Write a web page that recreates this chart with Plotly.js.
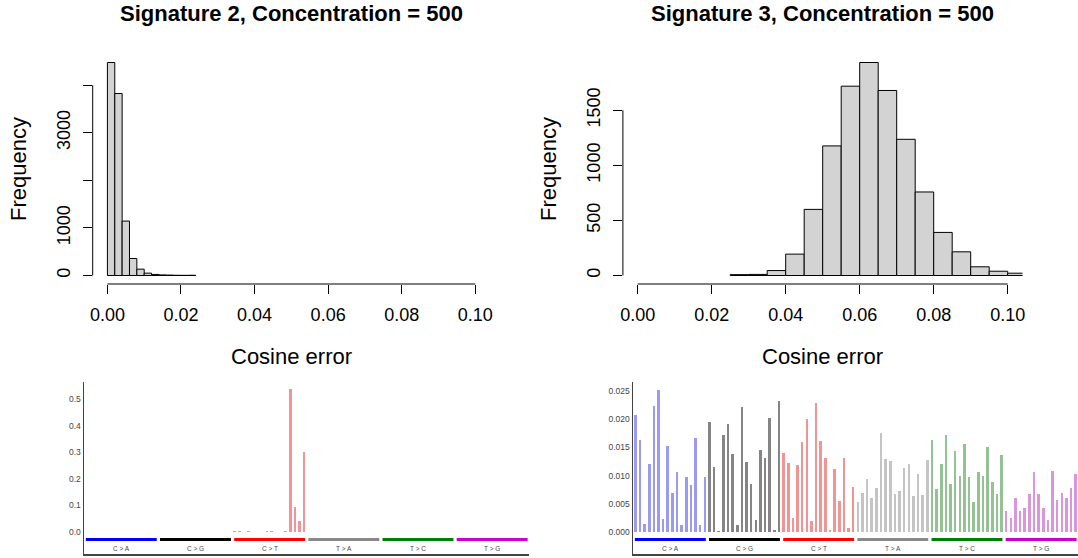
<!DOCTYPE html>
<html>
<head>
<meta charset="utf-8">
<script src="https://cdn.plot.ly/plotly-3.0.1.min.js"></script>
<style>
  html, body { margin: 0; padding: 0; background: #fff; }
  #chart { width: 1078px; height: 558px; }
</style>
</head>
<body>
<div id="chart"></div>
<script>
// ---------- Data ----------
// Histogram of cosine error, Signature 2 (bin left edges, width 0.002)
const sig2BinEdges = [0.000, 0.002, 0.004, 0.006, 0.008, 0.010, 0.012, 0.014, 0.016, 0.018, 0.020, 0.022];
const sig2BinWidth = 0.002;
const sig2Counts = [4477, 3825, 1144, 358, 133, 49, 22, 12, 8, 4, 3, 5];

// Histogram of cosine error, Signature 3 (bin left edges, width 0.005)
const sig3BinEdges = [0.025, 0.030, 0.035, 0.040, 0.045, 0.050, 0.055, 0.060, 0.065, 0.070, 0.075, 0.080, 0.085, 0.090, 0.095, 0.100];
const sig3BinWidth = 0.005;
const sig3Counts = [8, 10, 45, 194, 600, 1176, 1718, 1933, 1679, 1236, 758, 391, 215, 79, 39, 21];

// Mutation classes (16 trinucleotide contexts each)
const mutationClasses = ['C > A', 'C > G', 'C > T', 'T > A', 'T > C', 'T > G'];
const classBarColors = ['#9a9af2', '#858585', '#f29494', '#c4c4c4', '#93c393', '#dc94dc'];
const classLineColors = ['#0000ff', '#000000', '#ff0000', '#888888', '#008000', '#cc00cc'];

// Signature 2 profile (96 values, grouped by class)
const sig2Profile = [
  0.0002, 0.0001, 0.0001, 0.0002, 0.0001, 0.0001, 0.0001, 0.0001, 0.0001, 0.0001, 0.0001, 0.0001, 0.0002, 0.0001, 0.0001, 0.0001,
  0.0001, 0.0001, 0.0001, 0.0001, 0.0001, 0.0001, 0.0001, 0.0001, 0.0001, 0.0001, 0.0001, 0.0001, 0.0005, 0.0004, 0.0003, 0.0006,
  0.0010, 0.0008, 0.0005, 0.0009, 0.0006, 0.0005, 0.0004, 0.0015, 0.0008, 0.0006, 0.0005, 0.0008, 0.5360, 0.0940, 0.0410, 0.2990,
  0.0001, 0.0001, 0.0001, 0.0001, 0.0001, 0.0001, 0.0001, 0.0001, 0.0001, 0.0001, 0.0001, 0.0001, 0.0001, 0.0001, 0.0001, 0.0001,
  0.0001, 0.0001, 0.0001, 0.0001, 0.0001, 0.0001, 0.0001, 0.0001, 0.0001, 0.0001, 0.0001, 0.0001, 0.0001, 0.0001, 0.0001, 0.0001,
  0.0001, 0.0001, 0.0001, 0.0001, 0.0001, 0.0001, 0.0001, 0.0001, 0.0001, 0.0001, 0.0001, 0.0001, 0.0001, 0.0001, 0.0001, 0.0001
];

// Signature 3 profile (96 values, grouped by class)
const sig3Profile = [
  0.0207, 0.0163, 0.0015, 0.0120, 0.0223, 0.0251, 0.0023, 0.0152, 0.0069, 0.0107, 0.0012, 0.0098, 0.0083, 0.0166, 0.0012, 0.0097,
  0.0195, 0.0115, 0.0001, 0.0172, 0.0191, 0.0139, 0.0012, 0.0221, 0.0125, 0.0085, 0.0022, 0.0145, 0.0131, 0.0202, 0.0003, 0.0233,
  0.0140, 0.0122, 0.0024, 0.0119, 0.0159, 0.0200, 0.0020, 0.0228, 0.0162, 0.0132, 0.0003, 0.0111, 0.0055, 0.0131, 0.0008, 0.0080,
  0.0053, 0.0070, 0.0094, 0.0060, 0.0078, 0.0176, 0.0130, 0.0126, 0.0068, 0.0073, 0.0114, 0.0121, 0.0063, 0.0103, 0.0065, 0.0128,
  0.0163, 0.0076, 0.0121, 0.0172, 0.0086, 0.0143, 0.0099, 0.0156, 0.0098, 0.0054, 0.0107, 0.0100, 0.0150, 0.0088, 0.0067, 0.0137,
  0.0037, 0.0024, 0.0061, 0.0037, 0.0042, 0.0068, 0.0106, 0.0068, 0.0042, 0.0021, 0.0108, 0.0057, 0.0070, 0.0061, 0.0078, 0.0103
];

const sig2TickVals = [0, 0.1, 0.2, 0.3, 0.4, 0.5];
const sig3TickVals = [0, 0.005, 0.010, 0.015, 0.020, 0.025];

const histTitles = ['Signature 2, Concentration = 500', 'Signature 3, Concentration = 500'];

// ---------- Build ----------
const W = 1078, H = 558;
const px = v => v / W;
const py = v => 1 - v / H;

const FONT = 'Liberation Sans, Arial, sans-serif';
const traces = [];

function histTrace(edges, width, counts, xa, ya) {
  return {
    type: 'bar',
    x: edges.map(e => e + width / 2),
    y: counts,
    width: edges.map(() => width),
    marker: { color: '#d3d3d3', line: { color: '#000', width: 1 } },
    xaxis: xa, yaxis: ya,
    hoverinfo: 'x+y',
    showlegend: false
  };
}
traces.push(histTrace(sig2BinEdges, sig2BinWidth, sig2Counts, 'x', 'y'));
traces.push(histTrace(sig3BinEdges, sig3BinWidth, sig3Counts, 'x2', 'y2'));

function profileTraces(profile, xa, ya) {
  mutationClasses.forEach((cls, g) => {
    const xs = [], ys = [];
    for (let i = 0; i < 16; i++) { xs.push(g * 16 + i); ys.push(profile[g * 16 + i]); }
    traces.push({
      type: 'bar', x: xs, y: ys, width: 0.55,
      marker: { color: classBarColors[g], line: { width: 0 } },
      xaxis: xa, yaxis: ya, name: cls, showlegend: false
    });
  });
}
profileTraces(sig2Profile, 'x3', 'y3');
profileTraces(sig3Profile, 'x4', 'y4');

const shapes = [];
const annotations = [];

// R-style axis lines for histograms (span first to last tick)
[['x', 'y', 4000], ['x2', 'y2', 1500]].forEach(([xa, ya, ymax]) => {
  shapes.push({ type: 'line', xref: xa + ' domain', x0: 0, x1: 0, yref: ya, y0: 0, y1: ymax, line: { color: '#000', width: 1 } });
  shapes.push({ type: 'line', xref: xa, x0: 0, x1: 0.1, yref: ya + ' domain', y0: 0, y1: 0, line: { color: '#000', width: 1 } });
});

// Category bars + labels for profile panels
[['x3', 'y3'], ['x4', 'y4']].forEach(([xa, ya]) => {
  mutationClasses.forEach((cls, g) => {
    shapes.push({
      type: 'line', xref: xa, yref: ya + ' domain',
      x0: g * 16 - 0.1, x1: g * 16 + 15.2, y0: 0.084, y1: 0.084,
      line: { color: classLineColors[g], width: 3 }
    });
    annotations.push({
      xref: xa, yref: ya + ' domain', x: g * 16 + 7.55, y: 0.03,
      text: cls, showarrow: false, font: { family: FONT, size: 6.5, color: '#444' },
      xanchor: 'center', yanchor: 'middle'
    });
  });
});

// Titles and axis titles for histograms
const histCenters = [(92.7 + 490) / 2, (622.9 + 1022.5) / 2];
histTitles.forEach((t, i) => {
  annotations.push({
    xref: 'paper', yref: 'paper', x: px(histCenters[i]), y: py(13),
    text: '<b>' + t + '</b>', showarrow: false, xanchor: 'center', yanchor: 'middle',
    font: { family: FONT, size: 22, color: '#000' }
  });
  annotations.push({
    xref: 'paper', yref: 'paper', x: px(histCenters[i]), y: py(356),
    text: 'Cosine error', showarrow: false, xanchor: 'center', yanchor: 'middle',
    font: { family: FONT, size: 22, color: '#000' }
  });
});
[18, 548].forEach(xc => {
  annotations.push({
    xref: 'paper', yref: 'paper', x: px(xc), y: py(169),
    text: 'Frequency', showarrow: false, textangle: -90, xanchor: 'center', yanchor: 'middle',
    font: { family: FONT, size: 22, color: '#000' }
  });
});

const tickFontBig = { family: FONT, size: 18, color: '#000' };
const histX = (dom, anchor) => ({
  domain: dom, anchor: anchor, range: [-0.004, 0.104], showgrid: false, zeroline: false, showline: false,
  tickvals: [0, 0.02, 0.04, 0.06, 0.08, 0.1], ticktext: ['0.00', '0.02', '0.04', '0.06', '0.08', '0.10'],
  ticks: 'outside', ticklen: 9, tickwidth: 1, tickcolor: '#000', tickfont: tickFontBig,
  ticklabelstandoff: 5, fixedrange: true
});
const histY = (dom, anchor, range, vals, text) => ({
  domain: dom, anchor: anchor, range: range, showgrid: false, zeroline: false, showline: false,
  tickvals: vals, ticktext: text, tickangle: -90,
  ticks: 'outside', ticklen: 9, tickwidth: 1, tickcolor: '#000', tickfont: tickFontBig,
  ticklabelstandoff: 6, fixedrange: true
});
const profX = (dom, anchor) => ({
  domain: dom, anchor: anchor, range: [-0.5, 95.5], showgrid: false, zeroline: false,
  showline: true, linecolor: '#444', linewidth: 1.5, showticklabels: false, ticks: '', fixedrange: true
});
const profY = (dom, anchor, range, vals, fmt) => ({
  domain: dom, anchor: anchor, range: range, showgrid: false, zeroline: false,
  showline: true, linecolor: '#444', linewidth: 1.5, ticks: '',
  tickvals: vals, tickformat: fmt, tickfont: { family: FONT, size: 8.5, color: '#444' },
  fixedrange: true
});

const topDom = [py(284), py(54)];
const botDom = [py(554), py(382)];

const layout = {
  width: W, height: H,
  margin: { l: 0, r: 0, t: 0, b: 0 },
  paper_bgcolor: '#fff', plot_bgcolor: 'rgba(0,0,0,0)',
  showlegend: false,
  bargap: 0,
  font: { family: FONT },
  xaxis: histX([px(92.7), px(490)], 'y'),
  yaxis: histY(topDom, 'x', [-179, 4656], [0, 1000, 2000, 3000, 4000], ['0', '1000', '', '3000', '']),
  xaxis2: histX([px(622.9), px(1022.5)], 'y2'),
  yaxis2: histY(topDom, 'x2', [-77, 2010], [0, 500, 1000, 1500], ['0', '500', '1000', '1500']),
  xaxis3: profX([px(84), px(529)], 'y3'),
  yaxis3: profY(botDom, 'x3', [-0.084, 0.564], sig2TickVals, '.1f'),
  xaxis4: profX([px(633), 1], 'y4'),
  yaxis4: profY(botDom, 'x4', [-0.0039, 0.0266], sig3TickVals, '.3f'),
  shapes: shapes,
  annotations: annotations
};

Plotly.newPlot('chart', traces, layout, { displayModeBar: false, staticPlot: true });
</script>
</body>
</html>
